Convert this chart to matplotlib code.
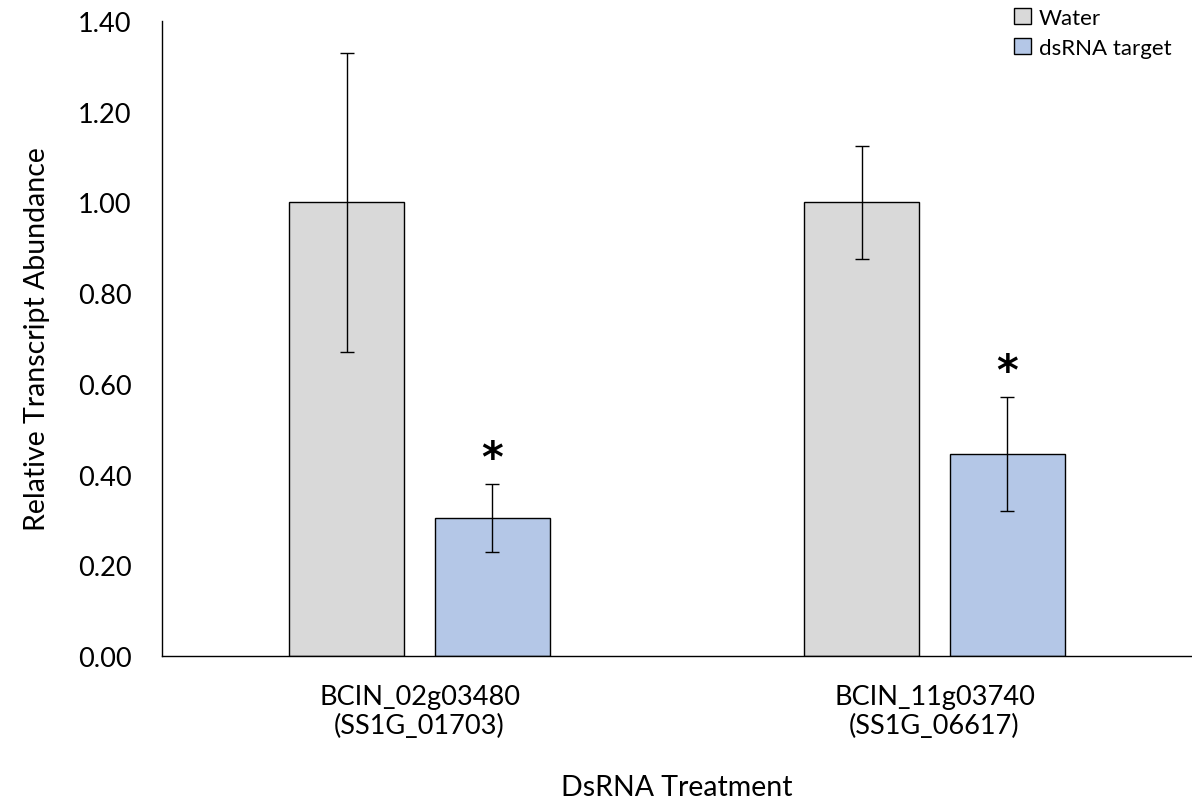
import matplotlib
matplotlib.use("Agg")
import matplotlib.pyplot as plt
import numpy as np

plt.rcParams["font.family"] = ["Lato", "DejaVu Sans"]

# data
genes = ["BCIN_02g03480\n(SS1G_01703)", "BCIN_11g03740\n(SS1G_06617)"]
water = [1.00, 1.00]
water_err = [0.33, 0.125]
dsrna = [0.305, 0.445]
dsrna_err = [0.075, 0.125]
significant = [True, True]

WATER_COLOR = "#D9D9D9"
DSRNA_COLOR = "#B4C7E7"

fig = plt.figure(figsize=(11.92, 8.03), dpi=100)
ax = fig.add_axes([162 / 1192, (803 - 657) / 803, 1 - 162 / 1192, (657 - 22) / 803])

x = np.arange(len(genes))
width = 0.223
off = 0.1417

err_kw = dict(ecolor="black", elinewidth=1.0, capsize=5, capthick=1.0)
ax.bar(x - off, water, width, yerr=water_err, color=WATER_COLOR,
       edgecolor="black", linewidth=1.0, label="Water", error_kw=err_kw)
ax.bar(x + off, dsrna, width, yerr=dsrna_err, color=DSRNA_COLOR,
       edgecolor="black", linewidth=1.0, label="dsRNA target", error_kw=err_kw)

for xi, v, e, sig in zip(x, dsrna, dsrna_err, significant):
    if sig:
        ax.annotate("*", (xi + off, v + e), xytext=(0, 18), textcoords="offset points",
                    ha="center", va="center", fontsize=30, fontweight="bold",
                    family=["DejaVu Sans"])

ax.set_xlim(-0.5, len(genes) - 0.5)
ax.set_ylim(0, 1.40)
ax.set_yticks(np.arange(0, 1.41, 0.2))
ax.set_yticklabels([f"{t:.2f}" for t in np.arange(0, 1.41, 0.2)])
ax.set_xticks(x)
ax.set_xticklabels(genes, linespacing=1.2)
ax.tick_params(axis="both", length=0, labelsize=19.5)
ax.tick_params(axis="y", pad=22)
ax.tick_params(axis="x", pad=20)

for side in ["top", "right"]:
    ax.spines[side].set_visible(False)
for side in ["left", "bottom"]:
    ax.spines[side].set_linewidth(1.0)
    ax.spines[side].set_color("black")

ax.set_ylabel("Relative Transcript Abundance", fontsize=20.5, labelpad=20)
ax.set_xlabel("DsRNA Treatment", fontsize=20.5, labelpad=26)

ax.legend(loc="upper right", bbox_to_anchor=(0.995, 1.045), frameon=False, fontsize=16,
          handlelength=0.75, handleheight=0.75, handletextpad=0.35, labelspacing=0.45,
          borderaxespad=0.3)

fig.savefig("out.png", dpi=100)
